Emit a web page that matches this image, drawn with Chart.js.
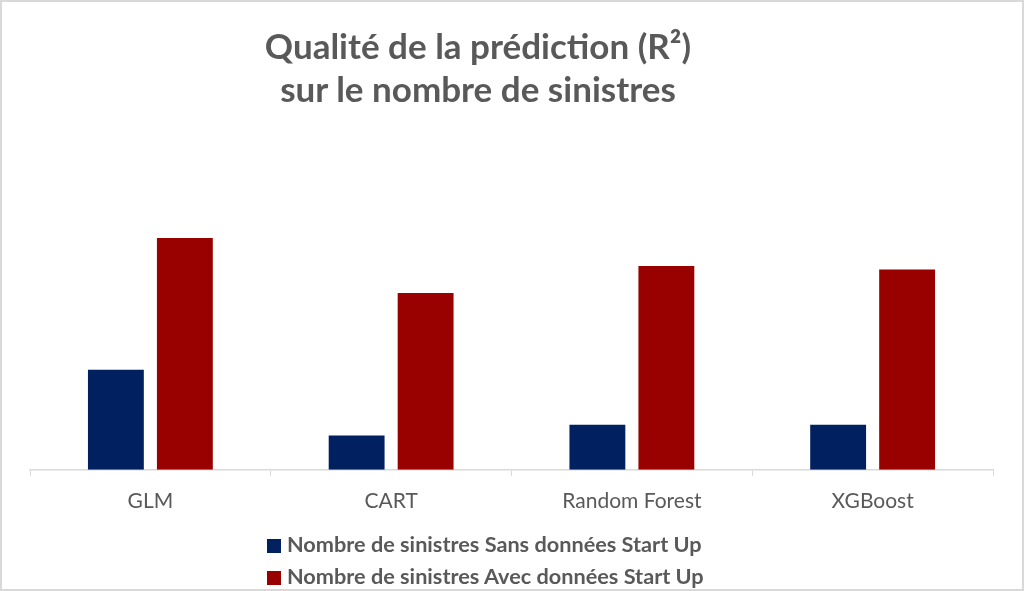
<!DOCTYPE html>
<html>
<head>
<meta charset="utf-8">
<script src="https://cdn.jsdelivr.net/npm/chart.js@4/dist/chart.umd.min.js"></script>
<style>
  html,body{margin:0;padding:0;background:#fff;}
  #wrap{position:relative;width:1024px;height:591px;overflow:hidden;}
  #frame{position:absolute;left:0;top:0;width:1024px;height:591px;box-sizing:border-box;border:2px solid #d9d9d9;pointer-events:none;}
  #title{position:absolute;left:0;width:956px;top:24px;text-align:center;font-family:Lato,sans-serif;font-weight:bold;font-size:35px;line-height:43px;color:#595959;}
  #legend{position:absolute;left:267px;top:528px;font-family:Lato,sans-serif;font-weight:bold;font-size:21.7px;color:#595959;}
  #legend .row{height:32px;line-height:32px;white-space:nowrap;}
  #legend .box{display:inline-block;width:14px;height:14px;margin-right:6px;vertical-align:-1px;}
</style>
</head>
<body>
<div id="wrap">
  <canvas id="chart" width="1024" height="591"></canvas>
  <div id="title">Qualité de la prédiction (R²)<br>sur le nombre de sinistres</div>
  <div id="legend"></div>
  <div id="frame"></div>
</div>
<script>
const models = ['GLM','CART','Random Forest','XGBoost'];
const sansStartUp = [0.111, 0.038, 0.050, 0.050];
const avecStartUp = [0.257, 0.196, 0.226, 0.222];
const seriesNames = ['Nombre de sinistres Sans données Start Up','Nombre de sinistres Avec données Start Up'];
const navy = '#002060';
const red = '#990000';
const axisGrey = '#d9d9d9';
const text = '#595959';

const chart = new Chart(document.getElementById('chart').getContext('2d'),{
  type:'bar',
  data:{
    labels:models,
    datasets:[
      {label:seriesNames[0],data:sansStartUp,backgroundColor:navy,borderWidth:0},
      {label:seriesNames[1],data:avecStartUp,backgroundColor:red,borderWidth:0}
    ]
  },
  options:{
    responsive:false,
    animation:false,
    layout:{padding:{left:30,right:31,top:154,bottom:64}},
    datasets:{bar:{categoryPercentage:0.573,barPercentage:0.81}},
    plugins:{
      legend:{display:false},
      title:{display:false},
      tooltip:{enabled:false}
    },
    scales:{
      x:{
        offset:true,
        grid:{offset:true,drawOnChartArea:false,drawTicks:true,tickLength:6,color:axisGrey},
        border:{color:axisGrey,width:1.5},
        ticks:{color:text,padding:13,font:{family:'Lato',size:21}}
      },
      y:{
        display:false,
        min:0,
        max:0.35
      }
    }
  }
});

// legend as html, built from the datasets
const legendEl = document.getElementById('legend');
chart.data.datasets.forEach(ds=>{
  const row = document.createElement('div');
  row.className = 'row';
  const box = document.createElement('span');
  box.className = 'box';
  box.style.background = ds.backgroundColor;
  row.appendChild(box);
  row.appendChild(document.createTextNode(ds.label));
  legendEl.appendChild(row);
});
</script>
</body>
</html>
